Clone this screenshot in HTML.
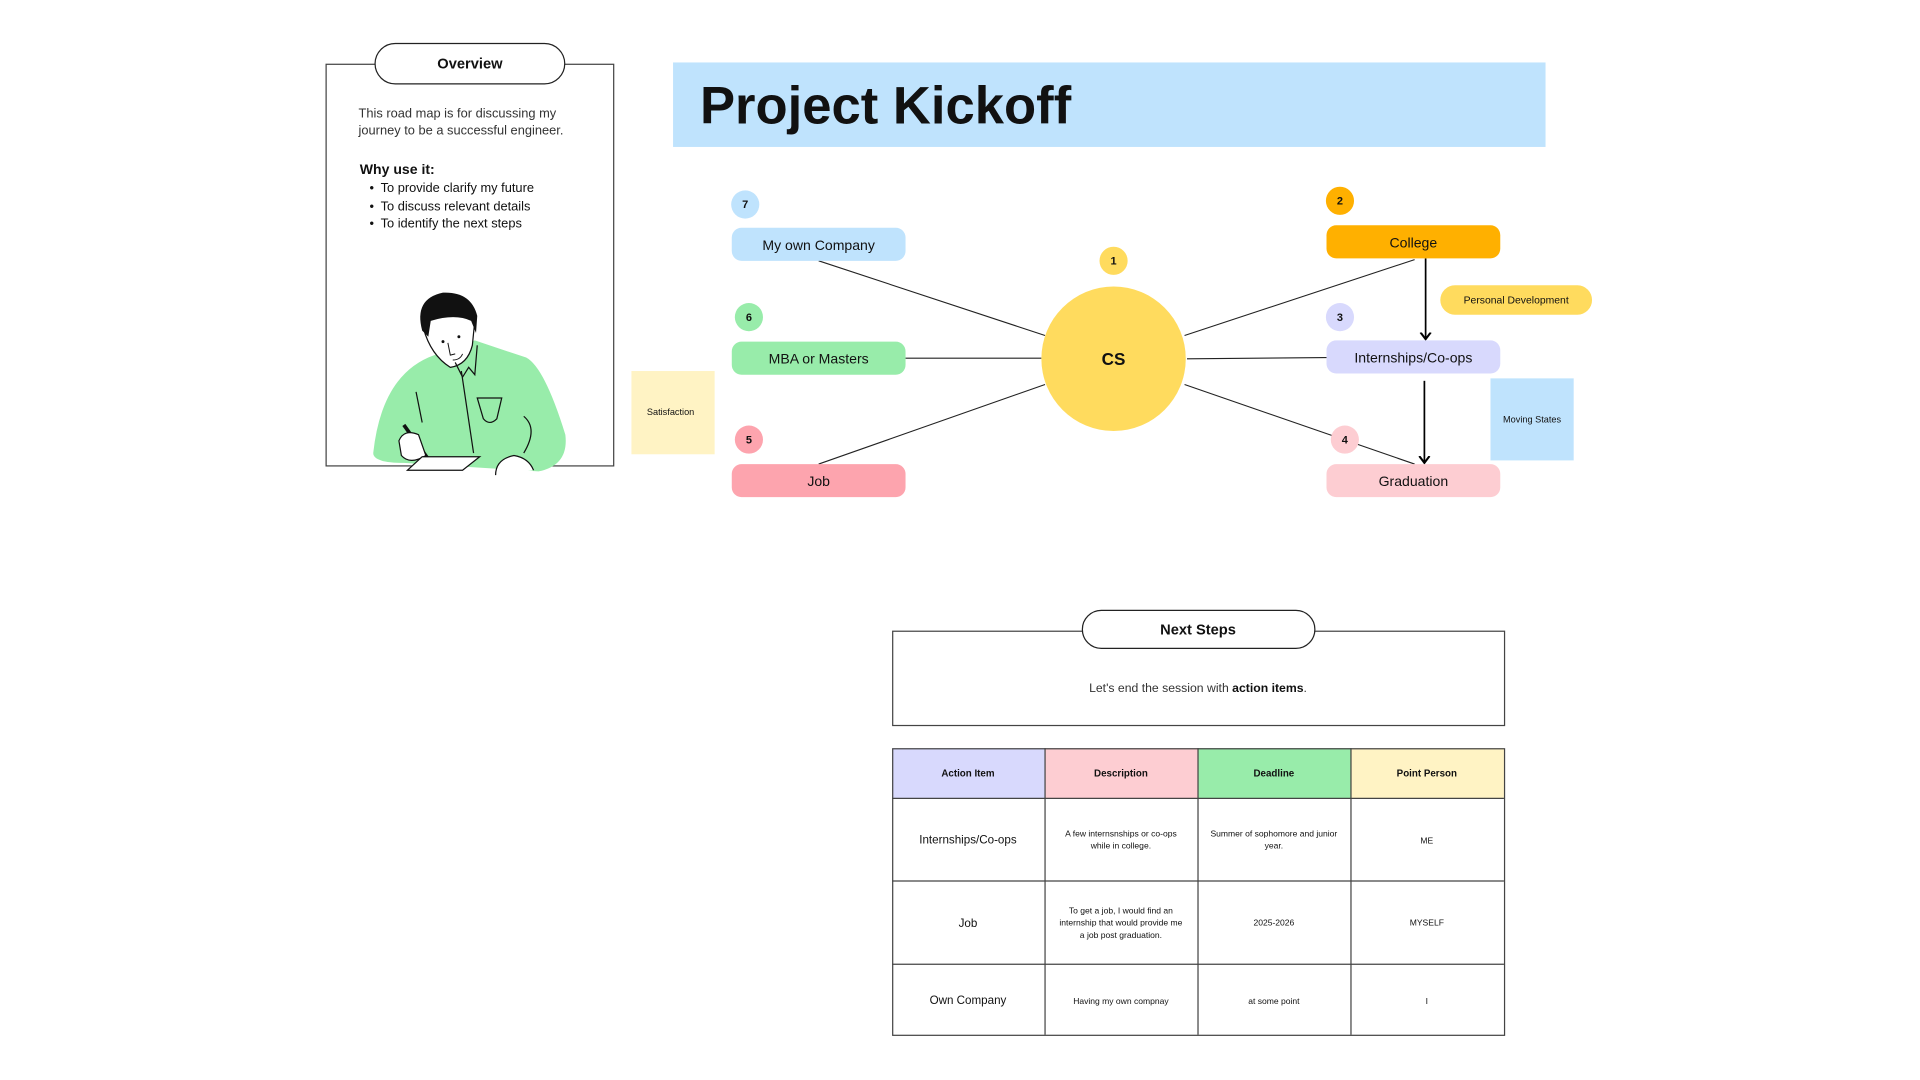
<!DOCTYPE html>
<html><head><meta charset="utf-8"><style>
html,body{margin:0;padding:0;background:#fff;width:1920px;height:1080px;overflow:hidden}
svg{display:block}
text{font-family:"Liberation Sans",sans-serif;fill:#111}
</style></head><body>
<svg width="1920" height="1080" viewBox="0 0 1569 882" preserveAspectRatio="none" xmlns="http://www.w3.org/2000/svg">
<defs><marker id="ar" markerWidth="8" markerHeight="8" refX="4" refY="4" orient="auto"><path d="M0,1 L4,4 L0,7" fill="none" stroke="#000" stroke-width="1.2"/></marker></defs>
<!-- Overview -->
<rect x="266.5" y="52.5" width="235" height="328" fill="#fff" stroke="#444" stroke-width="1"/>
<rect x="306.5" y="35.5" width="155" height="33" rx="16.5" fill="#fff" stroke="#222" stroke-width="1"/>
<text x="384" y="56" font-size="12" font-weight="bold" text-anchor="middle">Overview</text>
<text x="293" y="96" font-size="10.5" style="fill:#333">This road map is for discussing my</text>
<text x="293" y="110" font-size="10.5" style="fill:#333">journey to be a successful engineer.</text>
<text x="294" y="142" font-size="11.5" font-weight="bold">Why use it:</text>
<g font-size="10.5"><text x="302" y="157">•</text><text x="311" y="157">To provide clarify my future</text>
<text x="302" y="172">•</text><text x="311" y="172">To discuss relevant details</text>
<text x="302" y="186">•</text><text x="311" y="186">To identify the next steps</text></g>
<!-- person -->
<path d="M305,370 Q312,305 355,290 L388,278 L430,292 Q445,300 462,355 Q465,380 440,385 L330,378 Q305,378 305,370 Z" fill="#98ecaa"/>
<path d="M346,268 Q352,290 368,300 Q382,298 386,282 L388,262 Q386,250 372,250 Q352,252 346,268 Z" fill="#fff" stroke="#111" stroke-width="1"/>
<path d="M345,270 Q338,244 362,239 Q385,238 390,258 L389,272 L385,262 Q372,256 352,262 L350,275 Z" fill="#111"/>
<circle cx="362" cy="279" r="1.2" fill="#111"/><circle cx="375" cy="275" r="1.2" fill="#111"/>
<path d="M366,280 L368,290 L372,289 M370,294 Q376,294 378,289" fill="none" stroke="#111" stroke-width="0.8"/>
<path d="M372,296 L378,308 L383,300 L388,306 L390,282 M377,303 L387,370 M390,325 L410,325 L406,342 Q400,348 395,342 Z M428,340 Q440,350 428,370 M340,320 L345,345" fill="none" stroke="#111" stroke-width="1"/>
<path d="M330,347 L350,375" stroke="#111" stroke-width="3"/>
<path d="M326,360 Q330,350 342,355 L348,372 Q335,380 328,372 Z" fill="#fff" stroke="#111" stroke-width="1"/>
<path d="M333,384 L345,373 L392,373 L378,384 Z" fill="#fff" stroke="#111" stroke-width="1"/>
<path d="M405,388 Q405,375 420,372 Q432,374 436,384" fill="#fff" stroke="#111" stroke-width="1"/>
<!-- Satisfaction -->
<rect x="516" y="303" width="68" height="68" fill="#fff3c4"/>
<text x="548" y="339" font-size="7.5" text-anchor="middle">Satisfaction</text>
<!-- title -->
<rect x="550" y="51" width="713" height="69" fill="#bfe3fd"/>
<text x="572" y="101" font-size="43" font-weight="bold">Project Kickoff</text>
<!-- lines -->
<g stroke="#222" stroke-width="0.9">
<line x1="669" y1="213" x2="854" y2="274"/><line x1="740" y1="292.5" x2="851" y2="292.5"/><line x1="669" y1="379" x2="854" y2="314"/>
<line x1="968" y1="274" x2="1156" y2="212"/><line x1="970" y1="293" x2="1084" y2="292"/><line x1="968" y1="314" x2="1156" y2="379"/>
</g>
<g stroke="#000" stroke-width="1.4" marker-end="url(#ar)"><line x1="1165" y1="211" x2="1165" y2="277"/><line x1="1164" y1="311" x2="1164" y2="378"/></g>
<circle cx="910" cy="293" r="59" fill="#ffdb5e"/>
<text x="910" y="298" font-size="14" font-weight="bold" text-anchor="middle">CS</text>
<!-- nodes -->
<g font-size="11.5" text-anchor="middle">
<rect x="598" y="186" width="142" height="27" rx="8" fill="#bfe3fd"/><text x="669" y="204">My own Company</text>
<rect x="598" y="279" width="142" height="27" rx="8" fill="#98ecaa"/><text x="669" y="297">MBA or Masters</text>
<rect x="598" y="379" width="142" height="27" rx="8" fill="#fda4ae"/><text x="669" y="397">Job</text>
<rect x="1084" y="184" width="142" height="27" rx="8" fill="#ffb000"/><text x="1155" y="202">College</text>
<rect x="1084" y="278" width="142" height="27" rx="8" fill="#d8d9fd"/><text x="1155" y="296">Internships/Co-ops</text>
<rect x="1084" y="379" width="142" height="27" rx="8" fill="#fdcdd2"/><text x="1155" y="397">Graduation</text>
</g>
<g font-size="9" font-weight="bold" text-anchor="middle">
<circle cx="609" cy="167" r="11.5" fill="#bfe3fd"/><text x="609" y="170">7</text>
<circle cx="612" cy="259" r="11.5" fill="#98ecaa"/><text x="612" y="262">6</text>
<circle cx="612" cy="359" r="11.5" fill="#fda4ae"/><text x="612" y="362">5</text>
<circle cx="910" cy="213" r="11.5" fill="#ffdb5e"/><text x="910" y="216">1</text>
<circle cx="1095" cy="164" r="11.5" fill="#ffb000"/><text x="1095" y="167">2</text>
<circle cx="1095" cy="259" r="11.5" fill="#d8d9fd"/><text x="1095" y="262">3</text>
<circle cx="1099" cy="359" r="11.5" fill="#fdcdd2"/><text x="1099" y="362">4</text>
</g>
<rect x="1177" y="233" width="124" height="24" rx="12" fill="#ffdb5e"/>
<text x="1239" y="248" font-size="8.5" text-anchor="middle">Personal Development</text>
<rect x="1218" y="309" width="68" height="67" fill="#bfe3fd"/>
<text x="1252" y="345" font-size="7.5" text-anchor="middle">Moving States</text>
<!-- Next steps -->
<rect x="729.5" y="515.5" width="500" height="77" fill="#fff" stroke="#444" stroke-width="1"/>
<rect x="884.5" y="498.5" width="190" height="31" rx="15.5" fill="#fff" stroke="#222" stroke-width="1"/>
<text x="979" y="518" font-size="12" font-weight="bold" text-anchor="middle">Next Steps</text>
<text x="979" y="565" font-size="10" text-anchor="middle" style="fill:#333">Let's end the session with <tspan font-weight="bold" style="fill:#111">action items</tspan>.</text>
<!-- table -->
<rect x="729" y="611" width="125" height="41" fill="#d8d9fd"/><rect x="854" y="611" width="125" height="41" fill="#fdcdd2"/>
<rect x="979" y="611" width="125" height="41" fill="#98ecaa"/><rect x="1104" y="611" width="125" height="41" fill="#fff3c4"/>
<g stroke="#444" stroke-width="1" fill="none">
<rect x="729.5" y="611.5" width="500" height="234"/>
<line x1="729" y1="652" x2="1229" y2="652"/><line x1="729" y1="719.5" x2="1229" y2="719.5"/><line x1="729" y1="787.5" x2="1229" y2="787.5"/>
<line x1="854" y1="611" x2="854" y2="845"/><line x1="979" y1="611" x2="979" y2="845"/><line x1="1104" y1="611" x2="1104" y2="845"/>
</g>
<g font-size="8" font-weight="bold" text-anchor="middle">
<text x="791" y="634">Action Item</text><text x="916" y="634">Description</text><text x="1041" y="634">Deadline</text><text x="1166" y="634">Point Person</text></g>
<g text-anchor="middle" font-size="7" style="fill:#333">
<text x="791" y="689" font-size="9.5">Internships/Co-ops</text>
<text x="916" y="683">A few internsnships or co-ops</text><text x="916" y="693">while in college.</text>
<text x="1041" y="683">Summer of sophomore and junior</text><text x="1041" y="693">year.</text>
<text x="1166" y="689">ME</text>
<text x="791" y="757" font-size="9.5">Job</text>
<text x="916" y="746">To get a job, I would find an</text><text x="916" y="756">internship that would provide me</text><text x="916" y="766">a job post graduation.</text>
<text x="1041" y="756">2025-2026</text><text x="1166" y="756">MYSELF</text>
<text x="791" y="820" font-size="9.5">Own Company</text>
<text x="916" y="820">Having my own compnay</text><text x="1041" y="820">at some point</text><text x="1166" y="820">I</text>
</g>
</svg>
</body></html>
